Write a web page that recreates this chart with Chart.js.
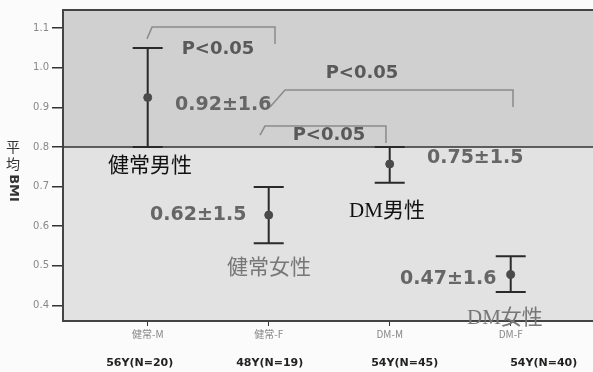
<!DOCTYPE html>
<html>
<head>
<meta charset="utf-8">
<script src="https://cdn.jsdelivr.net/npm/chart.js@4"></script>
<style>
  body { margin: 0; background: #fff; }
  #wrap { width: 593px; height: 372px; }
</style>
</head>
<body>
<div id="wrap"><canvas id="bmiChart"></canvas></div>
<script>
const categories = ["健常-M", "健常-F", "DM-M", "DM-F"];
const groupInfo = ["56Y(N=20)", "48Y(N=19)", "54Y(N=45)", "54Y(N=40)"];
const means = [0.925, 0.628, 0.757, 0.478];
const upper = [1.05, 0.699, 0.8, 0.524];
const lower = [0.8, 0.557, 0.71, 0.434];
const yTicks = [0.4, 0.5, 0.6, 0.7, 0.8, 0.9, 1.0, 1.1];
const refLine = 0.8;

// annotation texts (data coords)
const valueLabels = [
  { text: "0.92±1.6", x: 1.226, y: 0.906 },
  { text: "0.62±1.5", x: 1.019, y: 0.628 },
  { text: "0.75±1.5", x: 3.308, y: 0.772 },
  { text: "0.47±1.6", x: 3.085, y: 0.467 },
];
const groupLabels = [
  { text: "健常男性", x: 0.672, y: 0.752, color: "#111" },
  { text: "健常女性", x: 1.655, y: 0.494, color: "#777" },
  { text: "DM男性", x: 2.664, y: 0.636, color: "#111" },
  { text: "DM女性", x: 3.639, y: 0.366, color: "#777" },
];
const pLabels = [
  { x: 1.581, y: 1.047 },
  { x: 2.771, y: 0.987 },
  { x: 2.498, y: 0.83 },
];
const brackets = [
  [[0.994, 1.073], [1.036, 1.103], [2.052, 1.103], [2.052, 1.06]],
  [[2.011, 0.901], [2.135, 0.944], [4.019, 0.944], [4.019, 0.901]],
  [[1.928, 0.83], [1.969, 0.853], [2.969, 0.853], [2.969, 0.81]],
];

const decorPlugin = {
  id: "decor",
  beforeDraw(chart) {
    const { ctx, chartArea: a, scales } = chart;
    const yRef = scales.y.getPixelForValue(refLine);
    ctx.save();
    ctx.fillStyle = "#fbfbfb";
    ctx.fillRect(0, 0, chart.width, chart.height);
    ctx.fillStyle = "#d0d0d0";
    ctx.fillRect(a.left, a.top, a.right - a.left, yRef - a.top);
    ctx.fillStyle = "#e2e2e2";
    ctx.fillRect(a.left, yRef, a.right - a.left, a.bottom - yRef);
    ctx.restore();
  },
  beforeDatasetsDraw(chart) {
    const { ctx, chartArea: a, scales } = chart;
    const xs = scales.x, ys = scales.y;
    ctx.save();
    // top border
    ctx.strokeStyle = "#444";
    ctx.lineWidth = 2;
    ctx.beginPath();
    ctx.moveTo(a.left, a.top);
    ctx.lineTo(a.right, a.top);
    ctx.stroke();
    // reference line
    const yRef = ys.getPixelForValue(refLine);
    ctx.strokeStyle = "#333";
    ctx.lineWidth = 1.5;
    ctx.beginPath();
    ctx.moveTo(a.left, yRef);
    ctx.lineTo(a.right, yRef);
    ctx.stroke();
    // brackets
    ctx.strokeStyle = "#8a8a8a";
    ctx.lineWidth = 1.5;
    brackets.forEach((b) => {
      ctx.beginPath();
      b.forEach(([x, y], i) => {
        const px = xs.getPixelForValue(x), py = ys.getPixelForValue(y);
        if (i === 0) ctx.moveTo(px, py); else ctx.lineTo(px, py);
      });
      ctx.stroke();
    });
    // error bars
    ctx.strokeStyle = "#2a2a2a";
    ctx.lineWidth = 2;
    categories.forEach((c, i) => {
      const px = xs.getPixelForValue(i + 1);
      const pu = ys.getPixelForValue(upper[i]);
      const pl = ys.getPixelForValue(lower[i]);
      ctx.beginPath();
      ctx.moveTo(px, pu);
      ctx.lineTo(px, pl);
      ctx.moveTo(px - 15, pu);
      ctx.lineTo(px + 15, pu);
      ctx.moveTo(px - 15, pl);
      ctx.lineTo(px + 15, pl);
      ctx.stroke();
    });
    ctx.restore();
  },
  afterDraw(chart) {
    const { ctx, scales } = chart;
    const xs = scales.x, ys = scales.y;
    ctx.save();
    ctx.textBaseline = "middle";
    // P values
    ctx.font = "bold 18px 'DejaVu Sans'";
    ctx.fillStyle = "#595959";
    ctx.textAlign = "center";
    pLabels.forEach((p) => {
      ctx.fillText("P<0.05", xs.getPixelForValue(p.x), ys.getPixelForValue(p.y));
    });
    // mean ± sd
    ctx.textAlign = "left";
    ctx.font = "bold 19px 'DejaVu Sans'";
    ctx.fillStyle = "#666";
    valueLabels.forEach((v) => {
      ctx.fillText(v.text, xs.getPixelForValue(v.x), ys.getPixelForValue(v.y));
    });
    // group names
    ctx.font = "21px 'Liberation Serif', 'Noto Sans CJK JP'";
    groupLabels.forEach((g) => {
      ctx.fillStyle = g.color;
      ctx.fillText(g.text, xs.getPixelForValue(g.x), ys.getPixelForValue(g.y));
    });
    // age / N row
    ctx.textAlign = "center";
    ctx.font = "bold 11px 'DejaVu Sans'";
    ctx.fillStyle = "#222";
    const shift = [-8, 1, 15, 33];
    groupInfo.forEach((t, i) => {
      ctx.fillText(t, xs.getPixelForValue(i + 1) + shift[i], 363);
    });
    // y axis title
    ctx.fillStyle = "#333";
    ctx.font = "14px 'Noto Sans CJK JP'";
    ctx.fillText("平", 13, 147);
    ctx.fillText("均", 13, 164);
    ctx.translate(13, 188);
    ctx.rotate(Math.PI / 2);
    ctx.font = "bold 13px 'DejaVu Sans'";
    ctx.fillText("BMI", 0, 0);
    ctx.restore();
  },
};

const ctx = document.getElementById("bmiChart").getContext("2d");
const chart = new Chart(ctx, {
  type: "scatter",
  data: {
    datasets: [
      {
        label: "BMI",
        data: means.map((m, i) => ({ x: i + 1, y: m })),
        backgroundColor: "#4a4a4a",
        borderColor: "#4a4a4a",
        pointRadius: 4,
      },
    ],
  },
  options: {
    responsive: true,
    maintainAspectRatio: false,
    animation: false,
    layout: { autoPadding: false, padding: { top: 10, right: 0, left: 0, bottom: 0 } },
    plugins: {
      legend: { display: false },
      tooltip: { enabled: false },
    },
    scales: {
      x: {
        type: "linear",
        min: 0.3,
        max: 4.68,
        afterBuildTicks: (s) => {
          s.ticks = categories.map((c, i) => ({ value: i + 1 }));
        },
        afterFit: (s) => {
          s.height = 51;
        },
        ticks: {
          callback: (v) => categories[v - 1],
          color: "#888",
          font: { size: 10, family: "'Noto Sans CJK JP'" },
          padding: 2,
        },
        grid: { drawOnChartArea: false, tickLength: 5, color: "#333" },
        border: { color: "#444", width: 2 },
      },
      y: {
        min: 0.3606,
        max: 1.146,
        afterBuildTicks: (s) => {
          s.ticks = yTicks.map((v) => ({ value: v }));
        },
        afterFit: (s) => {
          s.width = 63;
        },
        ticks: {
          callback: (v) => v.toFixed(1),
          color: "#888",
          font: { size: 10, family: "'DejaVu Sans'" },
          padding: 3,
        },
        grid: { drawOnChartArea: false, tickLength: 11, color: "#333", lineWidth: 1.5 },
        border: { color: "#444", width: 2 },
      },
    },
  },
  plugins: [decorPlugin],
});
</script>
</body>
</html>
